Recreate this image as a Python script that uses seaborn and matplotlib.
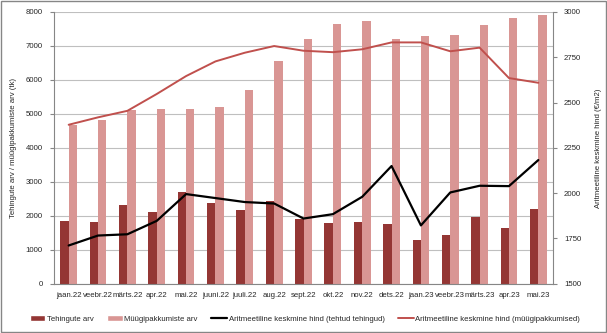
import numpy as np
import pandas as pd
import matplotlib
matplotlib.use("Agg")
import matplotlib.pyplot as plt
import seaborn as sns
from matplotlib.patches import Patch, Rectangle
from matplotlib.lines import Line2D

months = ["jaan.22", "veebr.22", "märts.22", "apr.22", "mai.22", "juuni.22", "juuli.22",
          "aug.22", "sept.22", "okt.22", "nov.22", "dets.22", "jaan.23", "veebr.23",
          "märts.23", "apr.23", "mai.23"]
tehingud = [1850, 1820, 2300, 2120, 2700, 2360, 2170, 2430, 1900, 1790, 1805, 1750,
            1280, 1415, 1945, 1650, 2185]
pakkumised = [4670, 4810, 5120, 5130, 5130, 5210, 5690, 6560, 7195, 7645, 7725, 7195,
              7295, 7315, 7610, 7825, 7905]
hind_tehingud = [1710, 1765, 1772, 1846, 1994, 1972, 1950, 1942, 1859, 1883, 1979, 2149,
                 1821, 2003, 2040, 2038, 2182]
hind_pakkumised = [2377, 2418, 2454, 2547, 2646, 2727, 2775, 2812, 2786, 2778, 2794, 2832,
                   2832, 2783, 2803, 2635, 2609]

lbl_teh = "Tehingute arv"
lbl_pak = "Müügipakkumiste arv"
lbl_ht = "Aritmeetiline keskmine hind (tehtud tehingud)"
lbl_hp = "Aritmeetiline keskmine hind (müügipakkumised)"

c_dark = "#943634"
c_light = "#D99694"
c_red = "#C0504D"
fs = 5.6

df = pd.DataFrame({
    "kuu": months * 2,
    "arv": tehingud + pakkumised,
    "seeria": [lbl_teh] * len(months) + [lbl_pak] * len(months),
})

sns.set_style("white")
plt.rcParams["font.family"] = ["Liberation Sans", "DejaVu Sans"]

fig = plt.figure(figsize=(6.07, 3.33), dpi=100)
ax = fig.add_axes([54 / 607, 1 - 283.5 / 333, (553 - 54) / 607, (283.5 - 12) / 333])

sns.barplot(data=df, x="kuu", y="arv", hue="seeria", palette=[c_dark, c_light],
            width=0.57, gap=0, dodge=True, ax=ax, legend=False, saturation=1,
            linewidth=0, edgecolor="none")

ax.set_ylim(0, 8000)
ax.set_xlim(-0.5, len(months) - 0.5)
ax.yaxis.grid(True, color="#BFBFBF", linewidth=0.8)
ax.set_axisbelow(True)
ax.set_xlabel("")
ax.set_ylabel("Tehingute arv / müügipakkumiste arv (tk)", fontsize=fs, labelpad=6)
ax.set_xticks(np.arange(len(months)))
ax.set_xticklabels(months)
ax.set_yticks(np.arange(0, 8001, 1000))
ax.tick_params(axis="x", which="major", labelsize=fs, length=0, pad=6)
ax.tick_params(axis="y", which="major", labelsize=fs, length=3, color="#868686",
               direction="out", pad=5)
for s in ["top", "right"]:
    ax.spines[s].set_visible(False)
for s in ["left", "bottom"]:
    ax.spines[s].set_color("#868686")
    ax.spines[s].set_linewidth(0.8)
ax.set_xticks(np.arange(-0.5, len(months), 1), minor=True)
ax.tick_params(axis="x", which="minor", length=3, color="#868686")

ax2 = ax.twinx()
x = np.arange(len(months))
sns.lineplot(x=x, y=hind_tehingud, color="black", linewidth=1.6, ax=ax2, sort=False)
sns.lineplot(x=x, y=hind_pakkumised, color=c_red, linewidth=1.4, ax=ax2, sort=False)
ax2.set_ylim(1500, 3000)
ax2.set_yticks(np.arange(1500, 3001, 250))
ax2.set_ylabel("Aritmeetiline keskmine hind (€/m2)", fontsize=fs, labelpad=10)
ax2.tick_params(axis="y", labelsize=fs, length=3, color="#868686", pad=5)
for s in ["top", "left", "bottom"]:
    ax2.spines[s].set_visible(False)
ax2.spines["right"].set_color("#868686")
ax2.spines["right"].set_linewidth(0.8)
ax2.set_xlim(-0.5, len(months) - 0.5)

handles = [Patch(facecolor=c_dark, label=lbl_teh),
           Patch(facecolor=c_light, label=lbl_pak),
           Line2D([0], [0], color="black", linewidth=1.6, label=lbl_ht),
           Line2D([0], [0], color=c_red, linewidth=1.4, label=lbl_hp)]
fig.legend(handles=handles, loc="center", bbox_to_anchor=(305 / 607, 1 - 319 / 333), ncol=4,
           frameon=False, fontsize=fs, handlelength=2.0, handleheight=0.7,
           columnspacing=1.75, handletextpad=0.2)

fig.patches.append(Rectangle((0.002, 0.003), 0.996, 0.994, transform=fig.transFigure,
                             fill=False, edgecolor="#868686", linewidth=1))

fig.savefig("out.png", dpi=100)
